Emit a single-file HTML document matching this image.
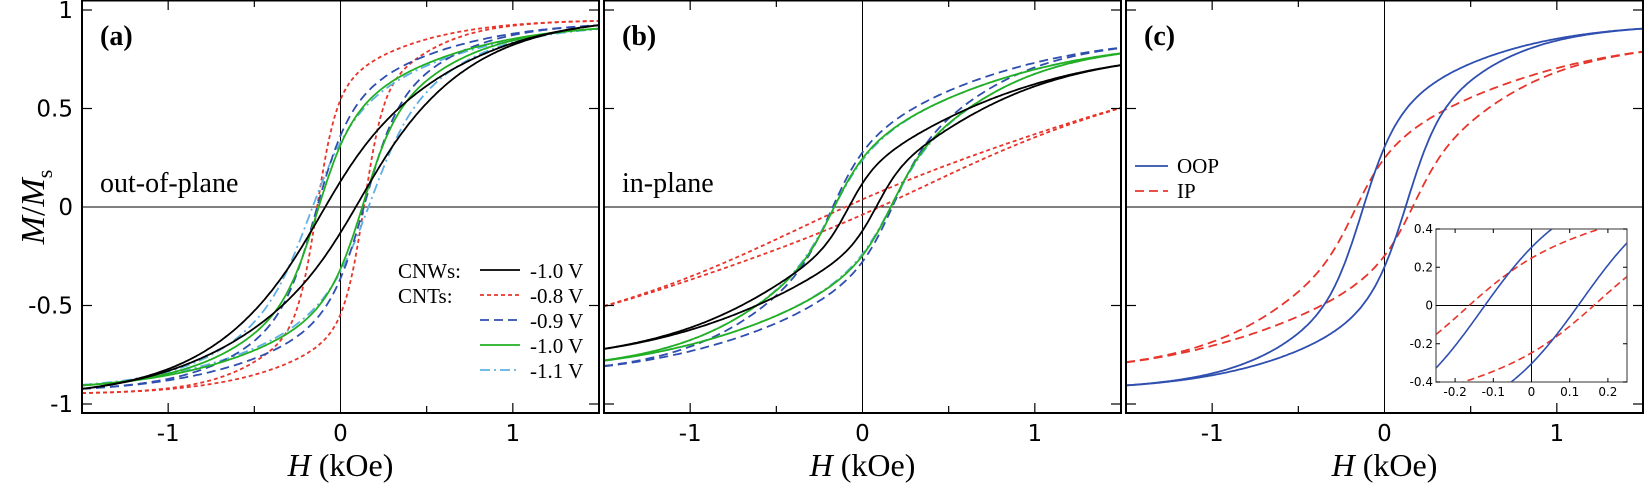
<!DOCTYPE html>
<html><head><meta charset="utf-8">
<style>
html,body{margin:0;padding:0;background:#fff;}
svg{display:block;}
.tk{font-family:"DejaVu Sans","Liberation Sans",sans-serif;font-size:23px;fill:#000;}
.sm{font-family:"DejaVu Sans","Liberation Sans",sans-serif;font-size:12px;fill:#000;}
.sf{font-family:"Liberation Serif",serif;fill:#000;}
</style></head>
<body>
<svg id="s" width="1644" height="485" viewBox="0 0 1644 485" xmlns="http://www.w3.org/2000/svg">
<text class="sf" x="0" y="0" font-size="34" transform="translate(44,207) rotate(-90)" text-anchor="middle"><tspan font-style="italic">M</tspan>/<tspan font-style="italic">M</tspan><tspan font-size="22" dy="8">s</tspan></text>
</svg>
<script>
var S=document.getElementById('s'),NS='http://www.w3.org/2000/svg';
function el(t,a,txt){var e=document.createElementNS(NS,t);for(var k in a)e.setAttribute(k,a[k]);if(txt!=null)e.textContent=txt;S.appendChild(e);return e;}
var T=0,B=413,Y0=207,YS=197;
var panels=[82,604,1126],W=517;
function th(x){return Math.tanh(x);}
function mk(a1,w1,a2,w2){return function(x){return a1*th(x/w1)+a2*th(x/w2);};}
var C={k:'#000',r:'#e8352b',b:'#2f4fb0',g:'#22b022',l:'#5fb0e4'};
var D={k:'',r:'4,3',b:'9,5',g:'',l:'10,4,2,4'};
var HD=[0.75,0.85,0.8];
var data=[
 [[C.r,D.r,mk(0.55,0.12,0.4,0.6),0.14],[C.l,D.l,mk(0.35,0.25,0.58,0.8),0.17],[C.b,D.b,mk(0.45,0.2,0.49,0.75),0.14],[C.g,D.g,mk(0.4,0.2,0.53,0.8),0.13],[C.k,D.k,mk(0.15,0.3,0.82,0.85),0.09]],
 [[C.r,D.r,mk(0.85,2.2,0,1),0.1],[C.b,D.b,mk(0.22,0.2,0.64,0.95),0.18],[C.l,D.l,mk(0.2,0.22,0.64,1.0),0.17],[C.g,D.g,mk(0.2,0.2,0.64,1.0),0.17],[C.k,D.k,mk(0.15,0.15,0.65,1.1),0.08]],
 [[C.r,'9,5',mk(0.2,0.2,0.65,1.0),0.17],[C.b,'',mk(0.4,0.2,0.53,0.8),0.125]]
];
function br(s,h,sg,hd){return s[2](h+sg*s[3]*Math.exp(-(h/hd)*(h/hd)));}
panels.forEach(function(L,pi){
 var X0=L+W/2,XS=W/3;
 var cp='c'+pi;var c=el('clipPath',{id:cp});var r=document.createElementNS(NS,'rect');r.setAttribute('x',L);r.setAttribute('y',T);r.setAttribute('width',W);r.setAttribute('height',B-T);c.appendChild(r);
 el('line',{x1:L,x2:L+W,y1:Y0,y2:Y0,stroke:'#000','stroke-width':1});
 el('line',{x1:X0,x2:X0,y1:T,y2:B,stroke:'#000','stroke-width':1});
 data[pi].forEach(function(s){
  [1,-1].forEach(function(sg){
   var d='';for(var i=0;i<=300;i++){var h=-1.5+3*i/300;var m=br(s,h,sg,HD[pi]);d+=(i?'L':'M')+(X0+h*XS).toFixed(1)+' '+(Y0-m*YS).toFixed(1);}
   el('path',{d:d,fill:'none',stroke:s[0],'stroke-width':1.8,'stroke-dasharray':s[1],'clip-path':'url(#'+cp+')'});
  });
 });
 el('rect',{x:L,y:T+0.5,width:W,height:B-T-0.5,fill:'none',stroke:'#000','stroke-width':2});
 [-1,-0.5,0.5,1].forEach(function(h){var x=X0+h*XS,l=(h%1==0)?10:7;el('line',{x1:x,x2:x,y1:B,y2:B-l,stroke:'#000','stroke-width':1.2});el('line',{x1:x,x2:x,y1:T,y2:T+l,stroke:'#000','stroke-width':1.2});});
 [-1,-0.5,0.5,1].forEach(function(m){var y=Y0-m*YS;el('line',{x1:L,x2:L+10,y1:y,y2:y,stroke:'#000','stroke-width':1.2});el('line',{x1:L+W,x2:L+W-10,y1:y,y2:y,stroke:'#000','stroke-width':1.2});});
 [[-1,'-1'],[0,'0'],[1,'1']].forEach(function(t){el('text',{x:X0+t[0]*XS,y:441,'text-anchor':'middle','class':'tk'},t[1]);});
 var xl=el('text',{x:X0,y:476,'text-anchor':'middle','class':'sf','font-size':32});
 xl.innerHTML='<tspan font-style="italic">H</tspan> (kOe)';
 el('text',{x:L+18,y:45,'class':'sf','font-size':28,'font-weight':'bold'},'('+'abc'[pi]+')');
});
[[1,'1'],[0.5,'0.5'],[0,'0'],[-0.5,'-0.5'],[-1,'-1']].forEach(function(t){el('text',{x:73,y:Y0-t[0]*YS+8,'text-anchor':'end','class':'tk'},t[1]);});
el('text',{x:100,y:192,'class':'sf','font-size':28},'out-of-plane');
el('text',{x:622,y:192,'class':'sf','font-size':28},'in-plane');
el('text',{x:398,y:278,'class':'sf','font-size':21},'CNWs:');
el('text',{x:398,y:303,'class':'sf','font-size':21},'CNTs:');
[[C.k,D.k,'-1.0 V'],[C.r,D.r,'-0.8 V'],[C.b,D.b,'-0.9 V'],[C.g,D.g,'-1.0 V'],[C.l,D.l,'-1.1 V']].forEach(function(s,i){var y=270+25*i;
 el('line',{x1:480,x2:520,y1:y,y2:y,stroke:s[0],'stroke-width':1.8,'stroke-dasharray':s[1]});
 el('text',{x:530,y:y+8,'class':'sf','font-size':21},s[2]);});
el('line',{x1:1135,x2:1168,y1:166,y2:166,stroke:C.b,'stroke-width':1.8});
el('text',{x:1177,y:173,'class':'sf','font-size':21},'OOP');
el('line',{x1:1135,x2:1168,y1:191,y2:191,stroke:C.r,'stroke-width':1.8,'stroke-dasharray':'9,5'});
el('text',{x:1177,y:198,'class':'sf','font-size':21},'IP');
(function(){var L=1436,R=1627,Tt=229,Bb=382,w=R-L,h=Bb-Tt,x0=(L+R)/2,y0=(Tt+Bb)/2,xs=w/0.5,ys=h/0.8;
 el('rect',{x:L,y:Tt,width:w,height:h,fill:'#fff',stroke:'none'});
 var c=el('clipPath',{id:'ci'});var r=document.createElementNS(NS,'rect');r.setAttribute('x',L);r.setAttribute('y',Tt);r.setAttribute('width',w);r.setAttribute('height',h);c.appendChild(r);
 el('line',{x1:L,x2:R,y1:y0,y2:y0,stroke:'#000','stroke-width':1});
 el('line',{x1:x0,x2:x0,y1:Tt,y2:Bb,stroke:'#000','stroke-width':1});
 data[2].forEach(function(s){[1,-1].forEach(function(sg){var d='';for(var i=0;i<=200;i++){var hh=-0.25+0.5*i/200;var m=br(s,hh,sg,HD[2]);d+=(i?'L':'M')+(x0+hh*xs).toFixed(1)+' '+(y0-m*ys).toFixed(1);}
  el('path',{d:d,fill:'none',stroke:s[0],'stroke-width':1.6,'stroke-dasharray':s[1]=='9,5'?'7,4':'','clip-path':'url(#ci)'});});});
 el('rect',{x:L,y:Tt,width:w,height:h,fill:'none',stroke:'#555','stroke-width':1.2});
 [-0.2,-0.1,0,0.1,0.2].forEach(function(v){var x=x0+v*xs;el('line',{x1:x,x2:x,y1:Bb,y2:Bb-4,stroke:'#000'});el('line',{x1:x,x2:x,y1:Tt,y2:Tt+4,stroke:'#000'});
  el('text',{x:x,y:Bb+14,'text-anchor':'middle','class':'sm'},v==0?'0':v.toFixed(1));});
 [-0.4,-0.2,0,0.2,0.4].forEach(function(v){var y=y0-v*ys;el('line',{x1:L,x2:L+4,y1:y,y2:y,stroke:'#000'});el('line',{x1:R,x2:R-4,y1:y,y2:y,stroke:'#000'});
  el('text',{x:L-3,y:y+4,'text-anchor':'end','class':'sm'},v==0?'0':v.toFixed(1));});
})();
</script>
</body></html>
